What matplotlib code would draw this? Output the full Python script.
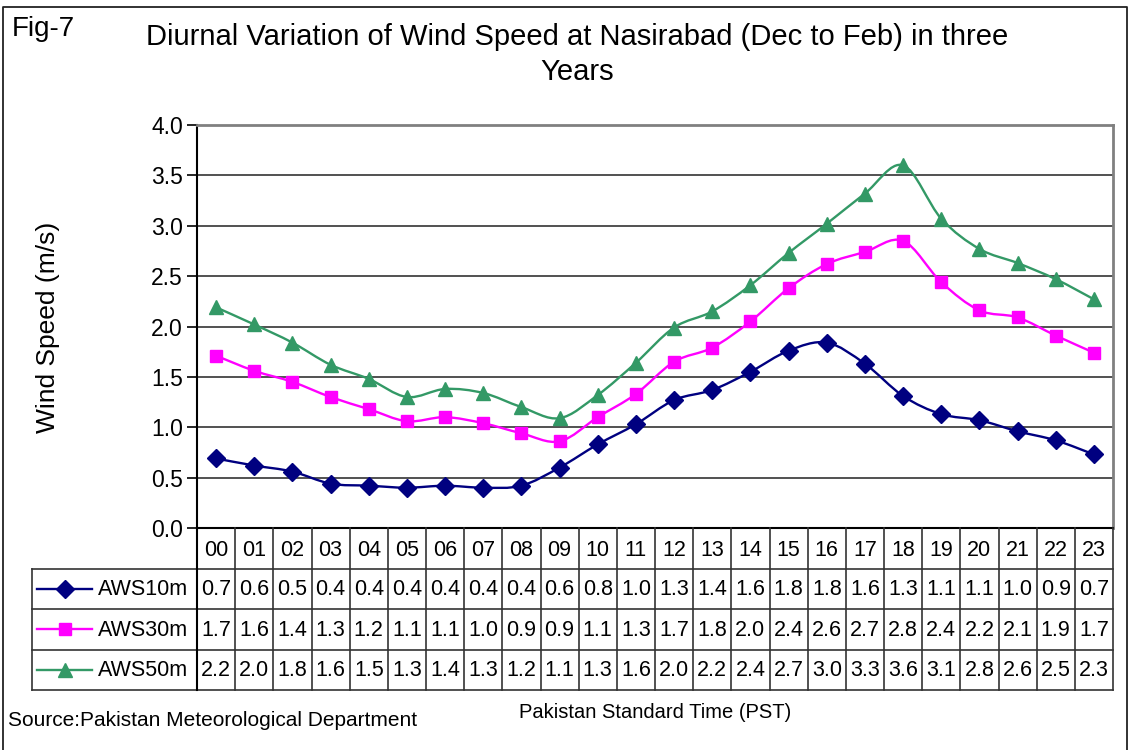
import numpy as np
import matplotlib
matplotlib.use("Agg")
import matplotlib.pyplot as plt
from matplotlib.path import Path
from matplotlib.patches import PathPatch
import matplotlib.transforms as mtransforms
from matplotlib.lines import Line2D

plt.rcParams['font.family'] = ['Liberation Sans', 'DejaVu Sans']

# ---------------- data ----------------
hours = ["00", "01", "02", "03", "04", "05", "06", "07", "08", "09", "10", "11",
         "12", "13", "14", "15", "16", "17", "18", "19", "20", "21", "22", "23"]
series_names = ["AWS10m", "AWS30m", "AWS50m"]

# plotted values
aws10 = [0.69, 0.62, 0.56, 0.44, 0.42, 0.40, 0.42, 0.40, 0.42, 0.60, 0.83, 1.03,
         1.27, 1.37, 1.55, 1.76, 1.84, 1.63, 1.31, 1.13, 1.07, 0.96, 0.87, 0.73]
aws30 = [1.71, 1.56, 1.45, 1.30, 1.18, 1.06, 1.10, 1.04, 0.94, 0.86, 1.10, 1.33,
         1.65, 1.79, 2.05, 2.38, 2.62, 2.74, 2.85, 2.44, 2.16, 2.09, 1.91, 1.74]
aws50 = [2.19, 2.02, 1.84, 1.62, 1.48, 1.30, 1.38, 1.34, 1.20, 1.09, 1.32, 1.64,
         1.99, 2.15, 2.41, 2.73, 3.02, 3.32, 3.60, 3.07, 2.77, 2.63, 2.47, 2.27]

# values printed in the data table
tab10 = ["0.7", "0.6", "0.5", "0.4", "0.4", "0.4", "0.4", "0.4", "0.4", "0.6", "0.8", "1.0",
         "1.3", "1.4", "1.6", "1.8", "1.8", "1.6", "1.3", "1.1", "1.1", "1.0", "0.9", "0.7"]
tab30 = ["1.7", "1.6", "1.4", "1.3", "1.2", "1.1", "1.1", "1.0", "0.9", "0.9", "1.1", "1.3",
         "1.7", "1.8", "2.0", "2.4", "2.6", "2.7", "2.8", "2.4", "2.2", "2.1", "1.9", "1.7"]
tab50 = ["2.2", "2.0", "1.8", "1.6", "1.5", "1.3", "1.4", "1.3", "1.2", "1.1", "1.3", "1.6",
         "2.0", "2.2", "2.4", "2.7", "3.0", "3.3", "3.6", "3.1", "2.8", "2.6", "2.5", "2.3"]

y_ticks = [0.0, 0.5, 1.0, 1.5, 2.0, 2.5, 3.0, 3.5, 4.0]

colors = ["#000080", "#FF00FF", "#339966"]
markers = ["D", "s", "^"]
msizes = [9, 9, 10.5]

W, H = 1130, 750
fig = plt.figure(figsize=(W / 100, H / 100), dpi=100)

# figure frame
frame = fig.add_axes([0, 0, 1, 1], facecolor="none")
frame.set_xlim(0, W); frame.set_ylim(H, 0); frame.axis("off")
frame.plot([3, 3, 1127, 1127], [752, 7, 7, 752], color="#222222", lw=1.3, clip_on=False)

# main axes
L, R, T, B = 197, 1113, 125, 528
ax = fig.add_axes([L / W, 1 - B / H, (R - L) / W, (B - T) / H])
x = np.arange(len(hours))
ax.set_xlim(-0.5, len(hours) - 0.5)
ax.set_ylim(0, 4.0)
ax.set_yticks(y_ticks)
ax.set_yticklabels([f"{v:.1f}" for v in y_ticks], fontsize=16.5)
ax.set_xticks([])
for v in y_ticks[1:-1]:
    ax.axhline(v, color="#333333", lw=1.2, zorder=1)
for s in ["top", "right"]:
    ax.spines[s].set_color("#808080"); ax.spines[s].set_linewidth(2)
for s in ["left", "bottom"]:
    ax.spines[s].set_color("black"); ax.spines[s].set_linewidth(1.5)
ax.tick_params(axis="y", direction="out", length=7, width=1.2, pad=3)


def smooth_path(xs, ys):
    pts = np.column_stack([xs, ys]).astype(float)
    n = len(pts)
    verts = [pts[0]]
    codes = [Path.MOVETO]
    for i in range(n - 1):
        p0 = pts[i - 1] if i > 0 else pts[i]
        p1 = pts[i]
        p2 = pts[i + 1]
        p3 = pts[i + 2] if i + 2 < n else pts[i + 1]
        c1 = p1 + (p2 - p0) / 6.0
        c2 = p2 - (p3 - p1) / 6.0
        verts += [c1, c2, p2]
        codes += [Path.CURVE4] * 3
    return Path(verts, codes)


for vals, c, m, ms in zip([aws10, aws30, aws50], colors, markers, msizes):
    ax.add_patch(PathPatch(smooth_path(x, vals), fill=False, edgecolor=c, lw=1.7, zorder=3))
    ax.plot(x, vals, linestyle="none", marker=m, color=c, markersize=ms, zorder=4,
            clip_on=False)

# data table
TB = 690
tab = fig.add_axes([L / W, 1 - TB / H, (R - L) / W, (TB - B) / H], sharex=ax)
tab.set_ylim(4, 0)
tab.axis("off")
tab.set_xlim(-0.5, len(hours) - 0.5)
lc = "#333333"
bl = mtransforms.blended_transform_factory(tab.transAxes, tab.transData)
left_frac = (32 - L) / (R - L)
for i in range(len(hours) + 1):
    tab.plot([i - 0.5, i - 0.5], [0, 4], color=lc, lw=1.2, clip_on=False)
for r in [1, 2, 3, 4]:
    tab.plot([left_frac, 1], [r, r], color=lc, lw=1.2, transform=bl, clip_on=False)
tab.plot([left_frac, left_frac], [1, 4], color=lc, lw=1.2, transform=bl, clip_on=False)
tab.plot([0, 0], [0, 4], color="black", lw=1.5, transform=bl, clip_on=False)

FS = 15.5
for i, h in enumerate(hours):
    tab.text(i, 0.55, h, ha="center", va="center", fontsize=FS)
for r, (vals, name, c, m, ms) in enumerate(zip([tab10, tab30, tab50], series_names,
                                              colors, markers, msizes)):
    yrow = r + 1.5
    for i, v in enumerate(vals):
        tab.text(i, yrow + 0.03, v, ha="center", va="center", fontsize=FS)
    x0 = (37 - L) / (R - L); x1 = (92 - L) / (R - L)
    tab.add_line(Line2D([x0, x1], [yrow, yrow], color=c, lw=1.7, transform=bl, clip_on=False))
    tab.add_line(Line2D([(x0 + x1) / 2], [yrow], color=c, marker=m, markersize=ms,
                        linestyle="none", transform=bl, clip_on=False))
    tab.text((98 - L) / (R - L), yrow + 0.03, name, ha="left", va="center",
             fontsize=FS, transform=bl)

# texts
frame.text(12, 29, "Fig-7", fontsize=20, ha="left", va="center")
frame.text(577, 37, "Diurnal Variation of Wind Speed at Nasirabad (Dec to Feb) in three",
           fontsize=21, ha="center", va="center")
frame.text(577, 72, "Years", fontsize=21, ha="center", va="center")
frame.text(48, 327, "Wind Speed (m/s)", fontsize=19, ha="center", va="center", rotation=90)
frame.text(655, 712, "Pakistan Standard Time (PST)", fontsize=14.5, ha="center", va="center")
frame.text(8, 721, "Source:Pakistan Meteorological Department", fontsize=15, ha="left",
           va="center")

fig.savefig("out.png", dpi=100)
